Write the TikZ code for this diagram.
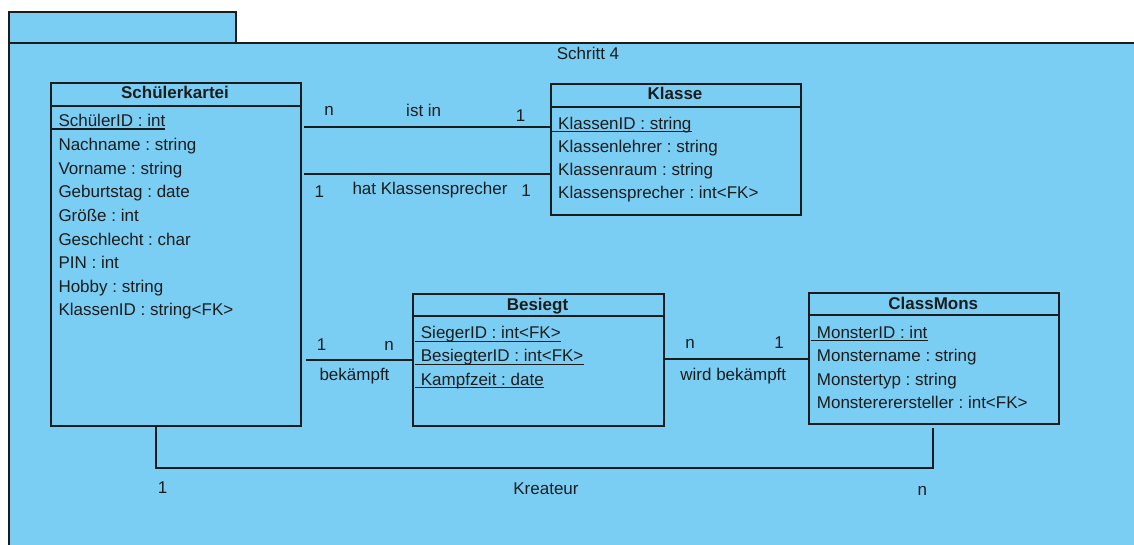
\documentclass[tikz,border=0pt]{standalone}
\usepackage{fontspec}
\setmainfont{Liberation Sans}
\definecolor{pkg}{RGB}{122,206,244}
\definecolor{ln}{RGB}{28,28,28}
\begin{document}
\frenchspacing
\begin{tikzpicture}[x=1pt,y=-1pt,
  every node/.style={font=\fontsize{17}{20}\selectfont, text=ln, inner sep=0pt},
  box/.style={draw=ln, line width=1.9pt, fill=pkg, anchor=north west, inner sep=0pt},
  pkgbox/.style={draw=ln, line width=1.6pt, fill=pkg, anchor=north west, inner sep=0pt},
  attr/.style={anchor=base west},
  ctitle/.style={anchor=base, font=\fontsize{17}{20}\selectfont\bfseries},
  lbl/.style={anchor=base},
  conn/.style={draw=ln, line width=1.8pt},
  ul/.style={draw=ln, line width=1.4pt}]
\useasboundingbox (0,0) rectangle (1134,545);
\fill[white] (0,0) rectangle (1134,545);
\begin{scope}
\clip (0,0) rectangle (1134,545);
\node[pkgbox, minimum width=227pt, minimum height=31pt] (tab) at (8,11) {};
\node[pkgbox, minimum width=1140pt, minimum height=520pt] (body) at (8,42) {};
\end{scope}
\node[lbl] (schritt) at (588,59.3) {Schritt 4};

% Schuelerkartei
\node[box, minimum width=250pt, minimum height=343pt] (sk) at (50,82) {};
\draw[conn] ([yshift=-24pt]sk.north west) -- ([yshift=-24pt]sk.north east);
\node[ctitle] (skt) at (175,99) {Schülerkartei};
\node[attr] (sk1) at (58.3,127) {SchülerID : int};
\node[attr] (sk2) at (58.3,151) {Nachname : string};
\node[attr] (sk3) at (58.3,174.5) {Vorname : string};
\node[attr] (sk4) at (58.3,198) {Geburtstag : date};
\node[attr] (sk5) at (58.3,221.5) {Größe : int};
\node[attr] (sk6) at (58.3,245) {Geschlecht : char};
\node[attr] (sk7) at (58.3,268.5) {PIN : int};
\node[attr] (sk8) at (58.3,292) {Hobby : string};
\node[attr] (sk9) at (58.3,315) {KlassenID : string<FK>};
\draw[ul] ([xshift=-6pt,yshift=-2pt]sk1.base west) -- ([yshift=-2pt]sk1.base east);

% Klasse
\node[box, minimum width=250pt, minimum height=131.5pt] (kl) at (550,82.7) {};
\draw[conn] ([yshift=-24pt]kl.north west) -- ([yshift=-24pt]kl.north east);
\node[ctitle] (klt) at (675,100) {Klasse};
\node[attr] (kl1) at (558,129.3) {KlassenID : string};
\node[attr] (kl2) at (558,152.7) {Klassenlehrer : string};
\node[attr] (kl3) at (558,175.8) {Klassenraum : string};
\node[attr] (kl4) at (558,199) {Klassensprecher : int<FK>};
\draw[ul] ([xshift=-6pt,yshift=-2.4pt]kl1.base west) -- ([yshift=-2.4pt]kl1.base east);

% Besiegt
\node[box, minimum width=250.4pt, minimum height=132pt] (bs) at (412.3,292.7) {};
\draw[conn] ([yshift=-23.3pt]bs.north west) -- ([yshift=-23.3pt]bs.north east);
\node[ctitle] (bst) at (537.5,310.7) {Besiegt};
\node[attr] (bs1) at (420.7,338.7) {SiegerID : int<FK>};
\node[attr] (bs2) at (420.7,361.7) {BesiegterID : int<FK>};
\node[attr] (bs3) at (420.7,385) {Kampfzeit : date};
\foreach \a in {bs1,bs2,bs3}
  \draw[ul] ([xshift=-6pt,yshift=-2.6pt]\a.base west) -- ([yshift=-2.6pt]\a.base east);

% ClassMons
\node[box, minimum width=250pt, minimum height=131.3pt] (cm) at (808.3,292) {};
\draw[conn] ([yshift=-23pt]cm.north west) -- ([yshift=-23pt]cm.north east);
\node[ctitle] (cmt) at (933.3,309.3) {ClassMons};
\node[attr] (cm1) at (816.7,338.3) {MonsterID : int};
\node[attr] (cm2) at (816.7,361.7) {Monstername : string};
\node[attr] (cm3) at (816.7,385) {Monstertyp : string};
\node[attr] (cm4) at (816.7,408.3) {Monstererersteller : int<FK>};
\draw[ul] ([xshift=-6pt,yshift=-2.4pt]cm1.base west) -- ([yshift=-2.4pt]cm1.base east);

% connectors
\draw[conn] ([xshift=2pt]sk.east |- 0,127.3) -- (kl.west |- 0,127.3);
\node[lbl] (l1a) at (329,116) {n};
\node[lbl] (l1b) at (423.7,116.7) {ist in};
\node[lbl] (l1c) at (520.7,121.7) {1};

\draw[conn] ([xshift=2pt]sk.east |- 0,174.3) -- (kl.west |- 0,174.3);
\node[lbl] (l2a) at (319.3,197.3) {1};
\node[lbl] (l2b) at (430,195) {hat Klassensprecher};
\node[lbl] (l2c) at (526,197) {1};

\draw[conn] ([xshift=4pt]sk.east |- 0,360) -- (bs.west |- 0,360);
\node[lbl] (l3a) at (321.7,350.7) {1};
\node[lbl] (l3b) at (389,350.7) {n};
\node[lbl] (l3c) at (354.5,380) {bekämpft};

\draw[conn] (bs.east |- 0,359.3) -- (cm.west |- 0,359.3);
\node[lbl] (l4a) at (690,348.3) {n};
\node[lbl] (l4b) at (779,348) {1};
\node[lbl] (l4c) at (733.3,380) {wird bekämpft};

\draw[conn] (sk.south -| 156,0) -- ++(0,41) -| ([yshift=-3pt]cm.south -| 933.3,0);
\node[lbl] (l5a) at (162.7,493.3) {1};
\node[lbl] (l5b) at (546,494) {Kreateur};
\node[lbl] (l5c) at (922.3,495) {n};
\end{tikzpicture}
\end{document}
